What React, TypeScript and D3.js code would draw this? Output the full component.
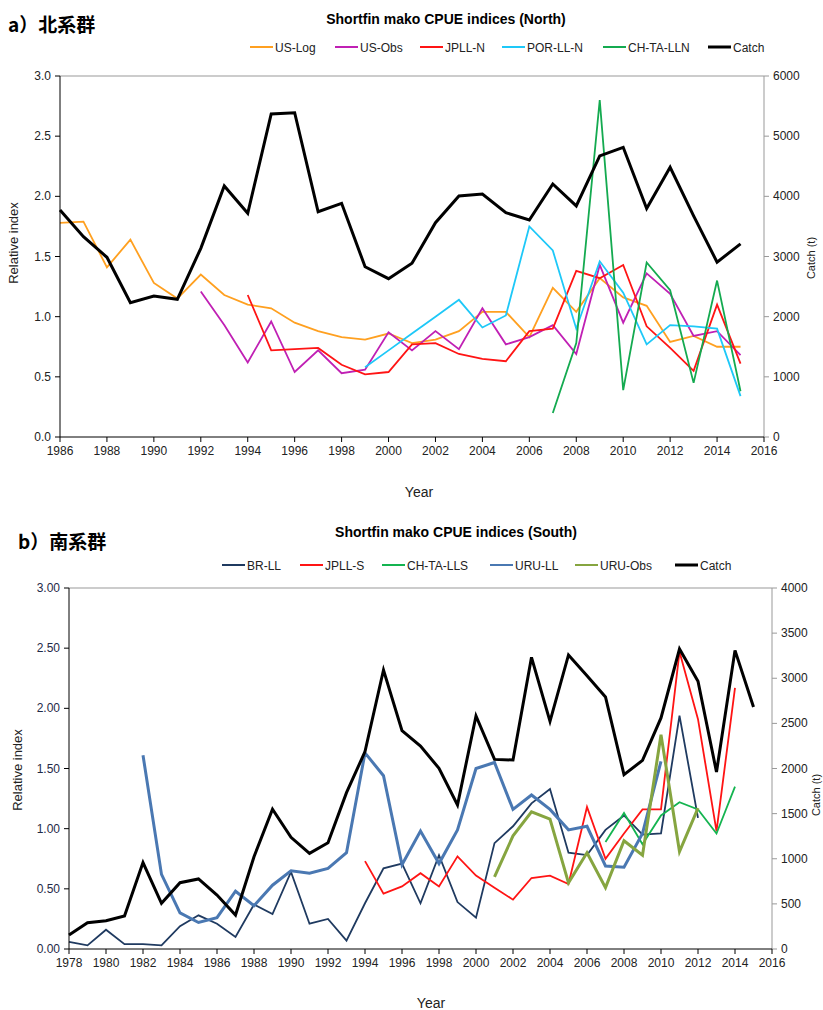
import { useEffect } from 'react';
import * as d3 from 'd3';

// ---- North data ----
const northYears = [1986, 1987, 1988, 1989, 1990, 1991, 1992, 1993, 1994, 1995, 1996, 1997, 1998, 1999, 2000,
  2001, 2002, 2003, 2004, 2005, 2006, 2007, 2008, 2009, 2010, 2011, 2012, 2013, 2014, 2015];
const usLog = [1.78, 1.79, 1.41, 1.64, 1.28, 1.15, 1.35, 1.18, 1.10, 1.07, 0.95, 0.88, 0.83, 0.81, 0.86,
  0.78, 0.81, 0.88, 1.04, 1.04, 0.83, 1.24, 1.04, 1.32, 1.16, 1.09, 0.79, 0.84, 0.75, 0.75];
const usObs = [null, null, null, null, null, null, 1.21, 0.93, 0.62, 0.96, 0.54, 0.72, 0.53, 0.56, 0.87,
  0.72, 0.88, 0.73, 1.07, 0.77, 0.83, 0.93, 0.69, 1.43, 0.95, 1.36, 1.19, 0.84, 0.88, 0.68];
const jpllN = [null, null, null, null, null, null, null, null, 1.18, 0.72, 0.73, 0.74, 0.60, 0.52, 0.54,
  0.77, 0.78, 0.69, 0.65, 0.63, 0.88, 0.90, 1.38, 1.32, 1.43, 0.92, 0.74, 0.55, 1.10, 0.61];
const porLLN = [null, null, null, null, null, null, null, null, null, null, null, null, null, 0.58, 0.72,
  0.86, 1.00, 1.14, 0.91, 1.01, 1.75, 1.55, 0.90, 1.46, 1.20, 0.77, 0.93, 0.92, 0.90, 0.34];
const chTaLLN = [null, null, null, null, null, null, null, null, null, null, null, null, null, null, null,
  null, null, null, null, null, null, 0.20, 0.78, 2.80, 0.39, 1.45, 1.22, 0.45, 1.30, 0.38];
const catchN = [3773, 3330, 2987, 2232, 2344, 2289, 3136, 4172, 3718, 5368, 5390, 3744, 3884, 2830, 2631,
  2887, 3562, 4006, 4039, 3728, 3607, 4205, 3841, 4671, 4815, 3797, 4483, 3675, 2906, 3210];

// ---- South data ----
const southYears = [1978, 1979, 1980, 1981, 1982, 1983, 1984, 1985, 1986, 1987, 1988, 1989, 1990, 1991,
  1992, 1993, 1994, 1995, 1996, 1997, 1998, 1999, 2000, 2001, 2002, 2003, 2004, 2005, 2006, 2007, 2008,
  2009, 2010, 2011, 2012, 2013, 2014, 2015];
const brLL = [0.06, 0.03, 0.16, 0.04, 0.04, 0.03, 0.19, 0.28, 0.21, 0.10, 0.37, 0.29, 0.64, 0.21,
  0.25, 0.07, 0.38, 0.67, 0.71, 0.38, 0.78, 0.39, 0.26, 0.88, 1.02, 1.21, 1.33, 0.80, 0.78, 0.99, 1.11,
  0.95, 0.96, 1.94, 1.09, null, null, null];
const jpllS = [null, null, null, null, null, null, null, null, null, null, null, null, null, null,
  null, null, 0.73, 0.46, 0.52, 0.63, 0.52, 0.77, 0.61, 0.51, 0.41, 0.59, 0.61, 0.54, 1.18, 0.75, 0.96,
  1.16, 1.16, 2.47, 1.91, 0.98, 2.17, null];
const chTaLLS = [null, null, null, null, null, null, null, null, null, null, null, null, null, null,
  null, null, null, null, null, null, null, null, null, null, null, null, null, null, null, 0.89, 1.13,
  0.87, 1.11, 1.22, 1.16, 0.96, 1.35, null];
const uruLL = [null, null, null, null, 1.61, 0.62, 0.30, 0.22, 0.26, 0.48, 0.36, 0.53, 0.65, 0.63,
  0.67, 0.80, 1.63, 1.44, 0.70, 0.98, 0.71, 0.99, 1.50, 1.55, 1.16, 1.28, 1.16, 0.99, 1.02, 0.69, 0.68,
  0.96, 1.56, null, null, null, null, null];
const uruObs = [null, null, null, null, null, null, null, null, null, null, null, null, null, null,
  null, null, null, null, null, null, null, null, null, 0.60, 0.94, 1.14, 1.08, 0.55, 0.80, 0.51, 0.90,
  0.78, 1.78, 0.81, 1.17, null, null, null];
const catchS = [155, 292, 314, 366, 957, 506, 735, 776, 598, 377, 1023, 1548, 1237, 1060,
  1178, 1732, 2187, 3091, 2419, 2249, 2002, 1596, 2582, 2101, 2094, 3232, 2523, 3258, 3029, 2792, 1932,
  2090, 2560, 3324, 2966, 1961, 3309, 2681];

type Series = { name: string; values: (number | null)[]; color: string; width: number; right?: boolean };

const FONT = 'Liberation Sans, Arial, sans-serif';

type PanelProps = {
  years: number[];
  series: Series[];
  xDomain: [number, number];
  yMax: number;
  yTicks: number[];
  yFmt: string;
  rMax: number;
  rTicks: number[];
  box: { x0: number; x1: number; y0: number; y1: number };
  title: string;
  titleX: number;
  titleY: number;
  tag: string;
  tagX: number;
  tagY: number;
  legendX: number[];
  legendY: number;
  yLabelX: number;
  yLabelY: number;
  rLabelX: number;
  rLabelY: number;
  yearX: number;
  yearY: number;
  tickColor: string;
};

function Panel(p: PanelProps) {
  const { x0, x1, y0, y1 } = p.box;
  const x = d3.scaleLinear().domain(p.xDomain).range([x0, x1]);
  const y = d3.scaleLinear().domain([0, p.yMax]).range([y1, y0]);
  const yr = d3.scaleLinear().domain([0, p.rMax]).range([y1, y0]);
  const xTicks = d3.range(p.xDomain[0], p.xDomain[1] + 1, 2);
  const fmt = d3.format(p.yFmt);

  const lines = p.series.map((s) => {
    const sc = s.right ? yr : y;
    const gen = d3
      .line<number | null>()
      .defined((v) => v !== null)
      .x((_, i) => x(p.years[i]))
      .y((v) => sc(v as number));
    return { s, d: gen(s.values) || '' };
  });

  return (
    <g fontFamily={FONT}>
      <text x={p.tagX} y={p.tagY} fontSize={19} fontWeight="bold"
        fontFamily="'Noto Sans CJK JP', 'Noto Sans CJK SC', sans-serif" fill="#000">{p.tag}</text>
      <text x={p.titleX} y={p.titleY} fontSize={14} fontWeight="bold" textAnchor="middle" fill="#000">{p.title}</text>

      {/* legend */}
      {p.series.map((s, i) => (
        <g key={s.name} transform={`translate(${p.legendX[i]},${p.legendY})`}>
          <line x1={0} x2={23} y1={0} y2={0} stroke={s.color} strokeWidth={s.right ? 3 : 2} />
          <text x={25} y={4.5} fontSize={12} fill="#222">{s.name}</text>
        </g>
      ))}

      {/* frame */}
      <line x1={x0} x2={x1} y1={y0} y2={y0} stroke="#999" strokeWidth={1} />
      <line x1={x1} x2={x1} y1={y0} y2={y1} stroke="#999" strokeWidth={1} />

      {/* series */}
      {lines.map(({ s, d }) => (
        <path key={s.name} d={d} fill="none" stroke={s.color} strokeWidth={s.width}
          strokeLinejoin="miter" strokeLinecap="butt" />
      ))}

      <line x1={x0} x2={x0} y1={y0} y2={y1} stroke="#000" strokeWidth={1} />
      <line x1={x0} x2={x1} y1={y1} y2={y1} stroke="#000" strokeWidth={1} />

      {/* left axis */}
      {p.yTicks.map((t) => (
        <g key={`l${t}`}>
          <line x1={x0 - 5} x2={x0} y1={y(t)} y2={y(t)} stroke="#000" />
          <text x={x0 - 9} y={y(t) + 4} fontSize={12} textAnchor="end" fill={p.tickColor}>{fmt(t)}</text>
        </g>
      ))}
      {/* right axis */}
      {p.rTicks.map((t) => (
        <g key={`r${t}`}>
          <line x1={x1} x2={x1 + 5} y1={yr(t)} y2={yr(t)} stroke="#999" />
          <text x={x1 + 9} y={yr(t) + 4} fontSize={12} fill="#222">{t}</text>
        </g>
      ))}
      {/* bottom axis */}
      {xTicks.map((t) => (
        <g key={`b${t}`}>
          <line x1={x(t)} x2={x(t)} y1={y1} y2={y1 + 5} stroke="#000" />
          <text x={x(t)} y={y1 + 18} fontSize={12} textAnchor="middle" fill="#222">{t}</text>
        </g>
      ))}

      <text transform={`translate(${p.yLabelX},${p.yLabelY}) rotate(-90)`} fontSize={13}
        textAnchor="middle" fill="#222">Relative index</text>
      <text transform={`translate(${p.rLabelX},${p.rLabelY}) rotate(-90)`} fontSize={11}
        textAnchor="middle" fill="#222">Catch (t)</text>
      <text x={p.yearX} y={p.yearY} fontSize={14} textAnchor="middle" fill="#222">Year</text>
    </g>
  );
}

export default function App() {
  useEffect(() => {
    document.body.style.margin = '0';
  }, []);

  const northSeries: Series[] = [
    { name: 'US-Log', values: usLog, color: '#ffa020', width: 1.8 },
    { name: 'US-Obs', values: usObs, color: '#c020b4', width: 1.8 },
    { name: 'JPLL-N', values: jpllN, color: '#ff1414', width: 1.8 },
    { name: 'POR-LL-N', values: porLLN, color: '#1ec8f8', width: 1.8 },
    { name: 'CH-TA-LLN', values: chTaLLN, color: '#14aa50', width: 1.8 },
    { name: 'Catch', values: catchN, color: '#000', width: 3, right: true },
  ];
  const southSeries: Series[] = [
    { name: 'BR-LL', values: brLL, color: '#1f3a60', width: 1.8 },
    { name: 'JPLL-S', values: jpllS, color: '#ff1414', width: 1.8 },
    { name: 'CH-TA-LLS', values: chTaLLS, color: '#14b450', width: 1.8 },
    { name: 'URU-LL', values: uruLL, color: '#4a78b2', width: 3 },
    { name: 'URU-Obs', values: uruObs, color: '#86a540', width: 3 },
    { name: 'Catch', values: catchS, color: '#000', width: 3, right: true },
  ];

  return (
    <svg width={823} height={1010} style={{ display: 'block', background: '#fff' }}>
      <Panel
        years={northYears}
        series={northSeries}
        xDomain={[1986, 2016]}
        yMax={3}
        yTicks={[0, 0.5, 1, 1.5, 2, 2.5, 3]}
        yFmt=".1f"
        rMax={6000}
        rTicks={[0, 1000, 2000, 3000, 4000, 5000, 6000]}
        box={{ x0: 60, x1: 764, y0: 76, y1: 437 }}
        title="Shortfin mako CPUE indices (North)"
        titleX={446}
        titleY={24}
        tag="a）北系群"
        tagX={8}
        tagY={32}
        legendX={[250, 335, 420, 502, 603, 708]}
        legendY={47}
        yLabelX={18}
        yLabelY={243}
        rLabelX={815}
        rLabelY={258}
        yearX={419}
        yearY={497}
        tickColor="#222"
      />
      <Panel
        years={southYears}
        series={southSeries}
        xDomain={[1978, 2016]}
        yMax={3}
        yTicks={[0, 0.5, 1, 1.5, 2, 2.5, 3]}
        yFmt=".2f"
        rMax={4000}
        rTicks={[0, 500, 1000, 1500, 2000, 2500, 3000, 3500, 4000]}
        box={{ x0: 69, x1: 772, y0: 588, y1: 949 }}
        title="Shortfin mako CPUE indices (South)"
        titleX={456}
        titleY={537}
        tag="b）南系群"
        tagX={18}
        tagY={549}
        legendX={[222, 300, 382, 490, 575, 675]}
        legendY={565}
        yLabelX={22}
        yLabelY={770}
        rLabelX={820}
        rLabelY={795}
        yearX={431}
        yearY={1008}
        tickColor="#1f2a48"
      />
    </svg>
  );
}
